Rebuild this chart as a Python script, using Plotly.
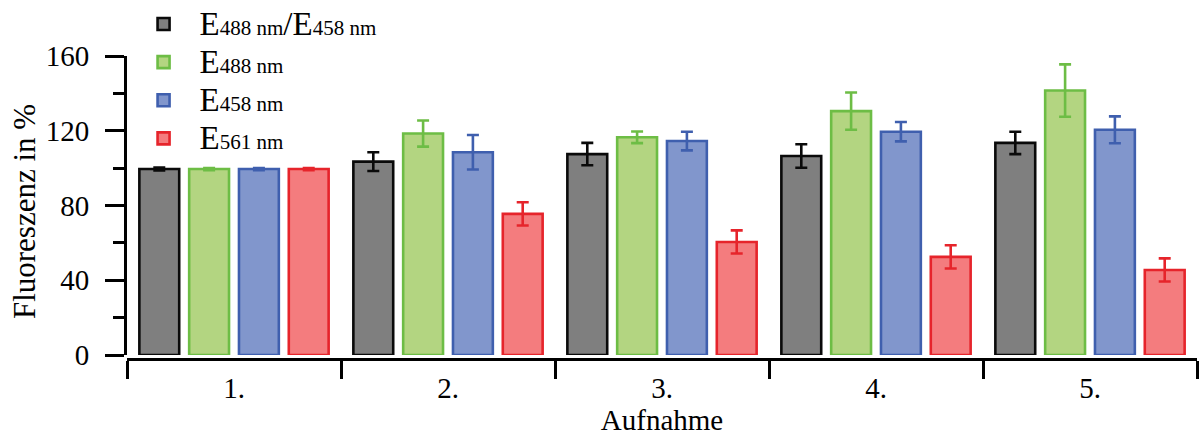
import plotly.graph_objects as go

categories = ["1.", "2.", "3.", "4.", "5."]

ratio_vals = [99.5, 103.5, 107.5, 106.5, 113.5]
ratio_err = [0.8, 5.0, 6.0, 6.3, 6.0]
e488_vals = [99.5, 118.5, 116.5, 130.5, 141.5]
e488_err = [0.6, 7.0, 3.1, 10.0, 14.0]
e458_vals = [99.5, 108.5, 114.5, 119.5, 120.5]
e458_err = [0.6, 9.2, 5.0, 5.2, 7.2]
e561_vals = [99.5, 75.5, 60.5, 52.5, 45.5]
e561_err = [0.6, 6.2, 6.2, 6.2, 6.2]

y_ticks = [0, 40, 80, 120, 160]

BIG = "font-size:33px"
SMALL = "font-size:21px"


def lab(sub):
    return f"<span style='{BIG}'>E</span><span style='{SMALL}'>{sub}</span>"


names = [
    lab("488 nm") + f"<span style='{BIG}'>/</span>" + lab("458 nm"),
    lab("488 nm"),
    lab("458 nm"),
    lab("561 nm"),
]
values = [ratio_vals, e488_vals, e458_vals, e561_vals]
errors = [ratio_err, e488_err, e458_err, e561_err]
fills = ["#7f7f7f", "#b3d581", "#8196cc", "#f47c7e"]
lines = ["#0a0a0a", "#6dbd45", "#3f5fae", "#e6242b"]

FONT = "Liberation Serif"

fig = go.Figure()
for n, v, e, f, l in zip(names, values, errors, fills, lines):
    fig.add_trace(go.Bar(
        x=categories, y=v, name=n,
        marker=dict(color=f, line=dict(color=l, width=2.6)),
        error_y=dict(type="data", array=e, visible=True, color=l,
                     thickness=2.6, width=6),
    ))

fig.update_layout(
    width=1200, height=442,
    paper_bgcolor="white", plot_bgcolor="white",
    margin=dict(l=127, r=3, t=56, b=83, autoexpand=False),
    barmode="group", bargap=0.069, bargroupgap=0.2,
    font=dict(family=FONT, color="black", size=28),
    legend=dict(
        xref="container", yref="container",
        x=0.1063, y=1.0204, xanchor="left", yanchor="top",
        bgcolor="rgba(0,0,0,0)", font=dict(family=FONT, size=27),
        tracegroupgap=0, itemwidth=62,
    ),
    xaxis=dict(
        anchor="free", position=0, range=[-0.5, 4.5], automargin=False,
        showline=True, linecolor="black", linewidth=3,
        ticks="outside", tickson="boundaries", ticklen=18, tickwidth=2.6,
        tickcolor="black", tickfont=dict(size=29), ticklabelstandoff=2,
        title=dict(text="Aufnahme", font=dict(size=29), standoff=0),
        showgrid=False, zeroline=False,
    ),
    yaxis=dict(
        domain=[4 / 303, 1], range=[0, 160], automargin=False,
        tickvals=y_ticks, ticktext=[str(t) for t in y_ticks],
        showline=True, linecolor="black", linewidth=3,
        ticks="outside", ticklen=19, tickwidth=2.6, tickcolor="black",
        ticklabelstandoff=10,
        minor=dict(tickvals=[20, 60, 100, 140], ticks="outside", ticklen=11,
                   tickwidth=2.6, tickcolor="black"),
        tickfont=dict(size=29),
        showgrid=False, zeroline=False,
    ),
    annotations=[dict(
        text="Fluoreszenz in %", textangle=-90, showarrow=False,
        xref="paper", yref="paper", x=-0.0962, y=0.485,
        xanchor="center", yanchor="middle", font=dict(size=31),
    )],
)

fig.write_html("out.html", config={"displayModeBar": False},
               post_script="document.body.style.margin='0px';")
